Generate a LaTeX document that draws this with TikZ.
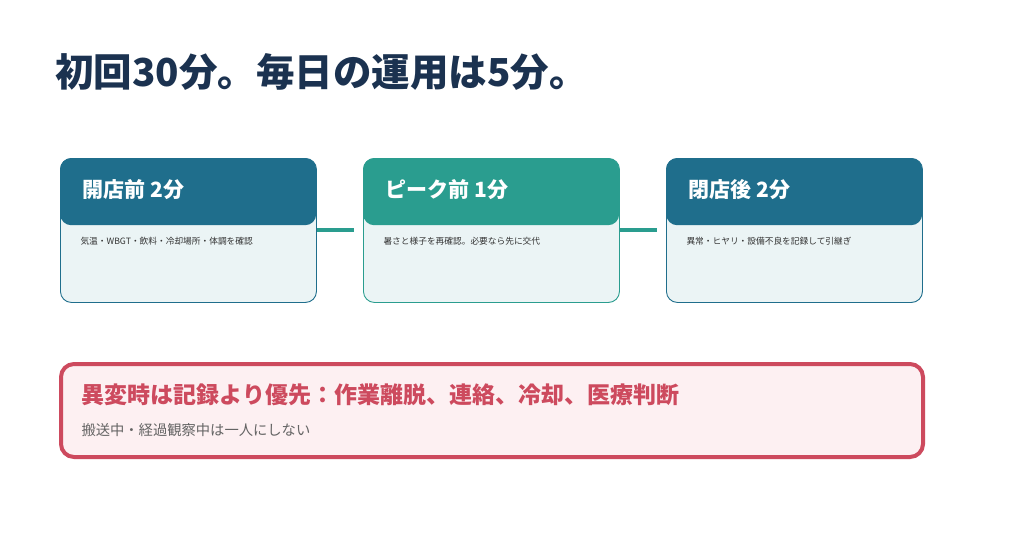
\documentclass[tikz,border=0pt]{standalone}
\usepackage{fontspec}
\setmainfont{Noto Sans CJK JP}
\usepackage{xcolor}
\usetikzlibrary{positioning, calc}
\definecolor{navy}{RGB}{27,50,80}
\definecolor{deepblue}{RGB}{31,110,140}
\definecolor{teal}{RGB}{42,157,143}
\definecolor{cardbody}{RGB}{235,244,245}
\definecolor{alertred}{RGB}{205,74,94}
\definecolor{alertbg}{RGB}{253,240,242}
\definecolor{bodytext}{RGB}{51,51,51}
\definecolor{subtext}{RGB}{100,100,100}

\begin{document}
\begin{tikzpicture}[x=1pt, y=-1pt,
  card/.style={
    draw=#1, line width=0.9pt, fill=cardbody, rounded corners=11pt,
    minimum width=256pt, minimum height=144pt, anchor=north west, inner sep=0pt
  },
  cardhead/.style={
    fill=#1, rounded corners=11pt,
    minimum width=256pt, minimum height=67pt, anchor=north west, inner sep=0pt
  },
  headlbl/.style={font=\fontsize{21}{24}\selectfont\bfseries, text=white, anchor=west},
  bodylbl/.style={font=\fontsize{8.7}{10}\selectfont, text=bodytext, anchor=west},
  link/.style={teal, line width=4.5pt}
]
  \fill[white] (0,0) rectangle (1024,538);
  \useasboundingbox (0,0) rectangle (1024,538);

  \node[anchor=west, text=navy, font=\fontsize{38.5}{42}\selectfont\bfseries, inner sep=0pt]
    (title) at (55,72) {初回30分。毎日の運用は5分。};

  % three steps
  \node[card=deepblue] (open) at (60,158) {};
  \node[cardhead=deepblue] (openhd) at (open.north west) {};
  \node[headlbl] (openlbl) at ($(open.north west)+(19,32)$) {開店前 2分};
  \node[bodylbl] (opentxt) at ($(open.north west)+(17,83)$) {気温・WBGT・飲料・冷却場所・体調を確認};

  \node[card=teal] (peak) at (363,158) {};
  \node[cardhead=teal] (peakhd) at (peak.north west) {};
  \node[headlbl] (peaklbl) at ($(peak.north west)+(19,32)$) {ピーク前 1分};
  \node[bodylbl] (peaktxt) at ($(peak.north west)+(17,83)$) {暑さと様子を再確認。必要なら先に交代};

  \node[card=deepblue] (close) at (666,158) {};
  \node[cardhead=deepblue] (closehd) at (close.north west) {};
  \node[headlbl] (closelbl) at ($(close.north west)+(19,32)$) {閉店後 2分};
  \node[bodylbl] (closetxt) at ($(close.north west)+(17,83)$) {異常・ヒヤリ・設備不良を記録して引継ぎ};

  \coordinate (peakin) at ($(peak.north west)+(-9,72)$);
  \coordinate (closein) at ($(close.north west)+(-9,72)$);
  \draw[link] ($(open.north east)+(0,72)$) -- (peakin);
  \draw[link] ($(peak.north east)+(0,72)$) -- (closein);

  % alert
  \node[draw=alertred, line width=4pt, fill=alertbg, rounded corners=13pt,
    minimum width=862pt, minimum height=93pt, anchor=north west, inner sep=0pt]
    (alert) at (59,362) {};
  \node[anchor=west, text=alertred, font=\fontsize{23}{26}\selectfont\bfseries]
    (alertlbl) at ($(alert.north west)+(19,33)$) {異変時は記録より優先：作業離脱、連絡、冷却、医療判断};
  \node[anchor=west, text=subtext, font=\fontsize{14.3}{16}\selectfont]
    (alerttxt) at ($(alert.north west)+(19,68)$) {搬送中・経過観察中は一人にしない};
\end{tikzpicture}
\end{document}
